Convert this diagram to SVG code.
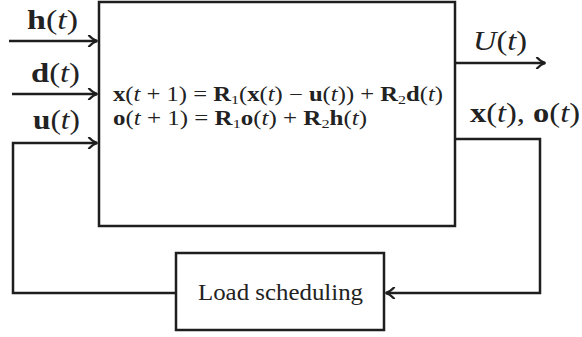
<svg xmlns="http://www.w3.org/2000/svg" width="582" height="337" viewBox="0 0 582 337">
<style>
.box{fill:#fff;stroke:#1e1e1e;stroke-width:2.5}
.wire{fill:none;stroke:#1e1e1e;stroke-width:2.5;stroke-linejoin:miter}
text{font-family:"Liberation Serif","Times New Roman",serif;fill:#222}
.b{font-weight:bold}
.i{font-style:italic}
.lab{font-size:27px}
.eq{font-size:20px}
.sub{font-size:13px}
</style>
<defs>
<marker id="arr" viewBox="0 0 12 12" refX="10" refY="6" markerWidth="12" markerHeight="12" markerUnits="userSpaceOnUse" orient="auto">
<path d="M2,0.5 Q6,5 10.5,6 Q6,7 2,11.5" fill="none" stroke="#1e1e1e" stroke-width="2.2" stroke-linecap="round"/>
</marker>
</defs>
<rect width="582" height="337" fill="#fff"/>
<g id="system">
<rect class="box" x="99" y="2" width="356" height="224"/>
<text class="eq" x="113" y="101" textLength="330" lengthAdjust="spacingAndGlyphs"><tspan class="b">x</tspan>(<tspan class="i">t</tspan> + 1) = <tspan class="b">R</tspan><tspan class="sub" dy="3">1</tspan><tspan dy="-3">(</tspan><tspan class="b">x</tspan>(<tspan class="i">t</tspan>) − <tspan class="b">u</tspan>(<tspan class="i">t</tspan>)) + <tspan class="b">R</tspan><tspan class="sub" dy="3">2</tspan><tspan class="b" dy="-3">d</tspan>(<tspan class="i">t</tspan>)</text>
<text class="eq" x="113" y="125" textLength="254" lengthAdjust="spacingAndGlyphs"><tspan class="b">o</tspan>(<tspan class="i">t</tspan> + 1) = <tspan class="b">R</tspan><tspan class="sub" dy="3">1</tspan><tspan class="b" dy="-3">o</tspan>(<tspan class="i">t</tspan>) + <tspan class="b">R</tspan><tspan class="sub" dy="3">2</tspan><tspan class="b" dy="-3">h</tspan>(<tspan class="i">t</tspan>)</text>
</g>
<g id="load">
<rect class="box" x="176" y="253" width="208" height="77"/>
<text x="198" y="300" font-size="23" textLength="165" lengthAdjust="spacingAndGlyphs">Load scheduling</text>
</g>
<g id="connectors">
<path class="wire" d="M9,41 H97" marker-end="url(#arr)"/>
<path class="wire" d="M12,94 H97" marker-end="url(#arr)"/>
<path class="wire" d="M455,63 H545" marker-end="url(#arr)"/>
<path class="wire" d="M455,139 H540 V293 H386" marker-end="url(#arr)"/>
<path class="wire" d="M176,293 H13 V143 H97" marker-end="url(#arr)"/>
</g>
<g id="labels">
<text class="lab" x="27" y="29" textLength="51" lengthAdjust="spacingAndGlyphs"><tspan class="b">h</tspan>(<tspan class="i">t</tspan>)</text>
<text class="lab" x="31" y="82" textLength="49" lengthAdjust="spacingAndGlyphs"><tspan class="b">d</tspan>(<tspan class="i">t</tspan>)</text>
<text class="lab" x="33" y="129" textLength="47" lengthAdjust="spacingAndGlyphs"><tspan class="b">u</tspan>(<tspan class="i">t</tspan>)</text>
<text class="lab" x="473" y="50" textLength="54" lengthAdjust="spacingAndGlyphs"><tspan class="i">U</tspan>(<tspan class="i">t</tspan>)</text>
<text class="lab" x="470" y="122" textLength="110" lengthAdjust="spacingAndGlyphs"><tspan class="b">x</tspan>(<tspan class="i">t</tspan>), <tspan class="b">o</tspan>(<tspan class="i">t</tspan>)</text>
</g>
</svg>
